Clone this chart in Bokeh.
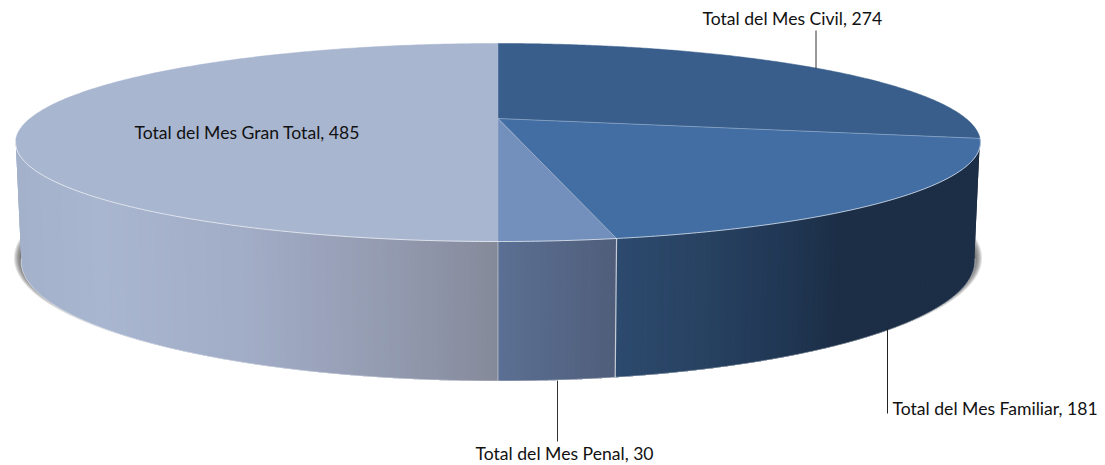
import numpy as np
from bokeh.embed import file_html
from bokeh.models import Range1d
from bokeh.plotting import figure
from bokeh.resources import INLINE
from bokeh.core.properties import value

# ---- data ----
categories = ["Civil", "Familiar", "Penal", "Gran Total"]
values = [274, 181, 30, 485]
labels = ["Total del Mes Civil, 274", "Total del Mes Familiar, 181",
          "Total del Mes Penal, 30", "Total del Mes Gran Total, 485"]

# ---- style ----
top_colors = ["#395E8B", "#426EA4", "#7390BC", "#A9B6D0"]
side_stops = {
    "Familiar": ([615, 700, 780, 840, 985], ["#2C4A6E", "#284262", "#213855", "#1C2E46", "#1C2E46"]),
    "Penal": ([497, 612], ["#5B7094", "#505E7B"]),
    "Gran Total": ([15, 100, 250, 400, 497], ["#A4B1CB", "#A9B6D0", "#A1ACC6", "#9299AE", "#858A9A"]),
}
label_left = [702, 892, 475, 134]
label_mid = [18, 408, 453, 132]
leader_x = [815.5, 887, 557]
leader_y0 = [30, 413, 441]
text_font = value("Lato")

# ---- layout of the projected disc (page pixels) ----
CX, APEX_Y, HALF_W, PERSP, DEPTH = 497.5, 118.0, 468.0, 0.2424, 93.2
TOP_CY, TOP_A, TOP_B = 142.0, 482.5, 99.0
BOT_CY, BOT_A, BOT_B = 260.5, 477.0, 120.0
WALL_END = np.radians(257)


def top_pt(theta):
    u, v = np.sin(theta), -np.cos(theta)
    d = 1 - PERSP * v
    return CX + HALF_W * u / d, APEX_Y + DEPTH * v / d


def bot_pt(theta):
    x, y = top_pt(theta)
    return CX + BOT_A * (x - CX) / TOP_A, BOT_CY + BOT_B * (y - TOP_CY) / TOP_B


def hex_rgb(c):
    return np.array([int(c[i:i + 2], 16) for i in (1, 3, 5)], float)


def shade(cat, x):
    xs, cols = side_stops[cat]
    rgb = np.array([hex_rgb(c) for c in cols])
    return "#%02x%02x%02x" % tuple(int(round(np.interp(x, xs, rgb[:, k]))) for k in range(3))


p = figure(width=1105, height=465, x_range=Range1d(0, 1105), y_range=Range1d(465, 0),
           output_backend="svg", toolbar_location=None, min_border=0,
           outline_line_color=None, background_fill_color="white")
p.axis.visible = False
p.grid.visible = False

total = sum(values)
edges = np.concatenate([[0], np.cumsum(values)]) / total * 2 * np.pi

# soft shadow behind the lower rim
phi = np.linspace(0, 2 * np.pi, 361)
for i in range(7):
    p.patch(CX + (478.0 + i) * np.cos(phi), 257.5 + (118.0 + i * 0.8) * np.sin(phi),
            fill_color="#3c3c3c", fill_alpha=0.14, line_color=None)

# side wall: a solid base per slice, then overlapping shaded strips painted in order
xs_all, ys_all, cols_all = [], [], []
for idx, cat in enumerate(categories):
    if cat == "Civil":
        continue
    a0 = edges[idx]
    a1 = min(edges[idx + 1], WALL_END)
    fine = np.linspace(a0, a1, 1500)
    xt, yt = top_pt(fine)
    xb, yb = bot_pt(fine)
    p.patch(np.concatenate([xt, xb[::-1]]), np.concatenate([yt, yb[::-1]]),
            fill_color=shade(cat, xt.mean()), line_color=None)
    picks = [0]
    for j in range(1, len(fine)):
        if abs(xt[j] - xt[picks[-1]]) >= 5:
            picks.append(j)
    if picks[-1] != len(fine) - 1:
        picks.append(len(fine) - 1)
    for n, j0 in enumerate(picks[:-1]):
        j1 = picks[min(n + 2, len(picks) - 1)]   # reaches over the next strip, which repaints it
        seg = np.arange(j0, j1 + 1, 4)
        if seg[-1] != j1:
            seg = np.append(seg, j1)
        xs_all.append(np.concatenate([xt[seg], xb[seg][::-1]]))
        ys_all.append(np.concatenate([yt[seg], yb[seg][::-1]]))
        cols_all.append(shade(cat, (xt[j0] + xt[picks[n + 1]]) / 2))
p.patches(xs_all, ys_all, fill_color=cols_all, line_color=None)

# pale bottom rim
th = np.linspace(edges[1] + 0.02, WALL_END, 300)
bx, by = bot_pt(th)
p.line(bx, by, line_color="#ffffff", line_alpha=0.45, line_width=1)

# vertical edges of the wall
for idx in (2, 3):
    x0, y0 = top_pt(edges[idx])
    x1, y1 = bot_pt(edges[idx])
    p.line([x0, x1], [y0, y1], line_color="#ffffff", line_alpha=0.35 if idx == 3 else 0.7, line_width=1.2)

# top face
for idx, cat in enumerate(categories):
    th = np.linspace(edges[idx], edges[idx + 1], 240)
    x, y = top_pt(th)
    p.patch(np.concatenate([[CX], x]), np.concatenate([[APEX_Y], y]),
            fill_color=top_colors[idx], line_color=top_colors[idx], line_width=0.5)

# pale seams of the top face
th = np.linspace(edges[1], WALL_END, 300)
x, y = top_pt(th)
p.line(x, y, line_color="#ffffff", line_alpha=0.65, line_width=1)
for idx in (1, 2):
    x0, y0 = top_pt(edges[idx])
    p.line([CX, x0], [APEX_Y, y0], line_color="#ffffff", line_alpha=0.3, line_width=1)

# leader lines
p.line([leader_x[0]] * 2, [leader_y0[0], 68], line_color="#333333", line_width=1)
p.line([leader_x[1]] * 2, [328, leader_y0[1]], line_color="#222222", line_width=1)
p.line([leader_x[2]] * 2, [380, leader_y0[2]], line_color="#333333", line_width=1)

p.text(label_left, label_mid, text=labels, text_font=text_font, text_font_size="17.6px",
       text_color="#111111", text_align="left", text_baseline="middle")

open("out.html", "w").write(file_html(p, INLINE))
